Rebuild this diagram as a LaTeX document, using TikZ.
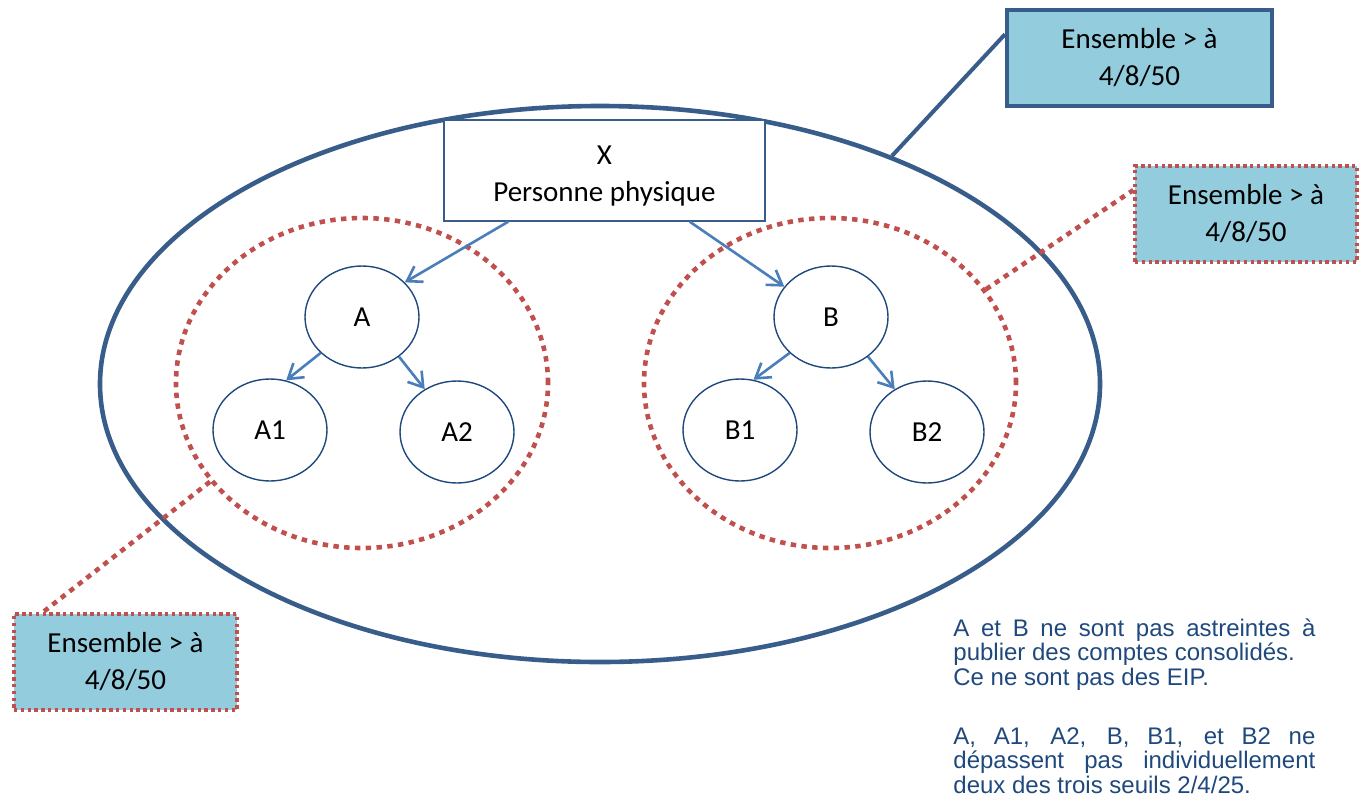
\documentclass[tikz,border=0pt]{standalone}
\usepackage{fontspec}
\setmainfont{Carlito}
\newfontfamily\notefont{Liberation Sans}
\usetikzlibrary{arrows.meta,shapes.geometric}
\definecolor{grpblue}{RGB}{56,93,138}
\definecolor{grplight}{RGB}{147,205,221}
\definecolor{grpred}{RGB}{192,80,77}
\definecolor{grparrow}{RGB}{74,126,187}
\definecolor{grpnavy}{RGB}{31,73,125}

\begin{document}
\begin{tikzpicture}[x=0.5pt,y=-0.5pt,
  grpentity/.style={draw=grpnavy,line width=0.7pt,ellipse,minimum width=57pt,minimum height=51pt,
    inner sep=0pt,font=\fontsize{14.5}{17}\selectfont},
  grpdots/.style={draw=grpred,line width=2.3pt,dash pattern=on 2.7pt off 2.7pt},
  grpset/.style={grpdots,ellipse,minimum width=186pt,minimum height=165pt,inner sep=0pt},
  grpseuil/.style={fill=grplight,minimum height=48pt,align=center,inner sep=0pt,
    font=\fontsize{14.5}{18.5}\selectfont},
  grpseuildots/.style={draw=grpred,line width=1.7pt,dash pattern=on 1.7pt off 1.7pt},
  grparr/.style={-{Straight Barb[length=7pt,width=9pt]},grparrow,line width=1.3pt}
]
  \useasboundingbox (0,0) rectangle (1363,803);

  % Whole group
  \node[draw=grpblue,line width=2.3pt,ellipse,minimum width=500pt,minimum height=278pt,
    inner sep=0pt] (tout) at (600,384) {};

  % Sub-groups A and B
  \node[grpset] (ensA) at (362,383) {};
  \node[grpset] (ensB) at (830,383) {};

  % Natural person
  \node[draw=grpblue,line width=0.7pt,fill=white,minimum width=160.5pt,minimum height=50.5pt,
    align=center,inner sep=0pt,font=\fontsize{14.5}{18.5}\selectfont] (pp) at (604.5,170.5)
    {\rule{0pt}{14.5pt}X\\Personne physique};

  % Companies
  \node[grpentity] (a) at (362,317) {A};
  \node[grpentity] (a1) at (270,430) {A1};
  \node[grpentity] (a2) at (457,432) {A2};
  \node[grpentity] (b) at (831,317) {B};
  \node[grpentity] (b1) at (740,430) {B1};
  \node[grpentity] (b2) at (927,432) {B2};

  % Holdings
  \draw[grparr] (pp.208) -- (a.39);
  \draw[grparr] (pp.329) -- (b.147);
  \draw[grparr] (a.221) -- (a1.72);
  \draw[grparr] (a.313) -- (a2.127);
  \draw[grparr] (b.221) -- (b1.75);
  \draw[grparr] (b.313) -- (b2.127);

  % Thresholds
  \node[grpseuil,draw=grpblue,line width=2pt,minimum width=132.5pt] (seuilX) at (1139.5,58)
    {Ensemble > à\\4/8/50};
  \node[grpseuil,grpseuildots,minimum width=111pt] (seuilB) at (1246,214) {Ensemble > à\\4/8/50};
  \node[grpseuil,grpseuildots,minimum width=111.5pt] (seuilA) at (125.5,662) {Ensemble > à\\4/8/50};

  % Callouts
  \draw[grpblue,line width=2pt] (tout.38) -- (seuilX.170);
  \draw[grpdots] (ensB.31) -- (seuilB.168);
  \draw[grpdots] (ensA.213) -- (seuilA.149);

  % Note
  \node[anchor=north west,inner sep=0pt,text width=181pt,align=justify,text=grpnavy,
    font=\notefont\fontsize{12}{12.25}\selectfont] (note) at (953,618)
    {A et B ne sont pas astreintes à\linebreak publier des comptes consolidés.\newline
    Ce ne sont pas des EIP.\par\vspace{17.25pt}
    A, A1, A2, B, B1, et B2 ne\linebreak dépassent pas individuellement\linebreak
    deux des trois seuils 2/4/25.};
\end{tikzpicture}
\end{document}
